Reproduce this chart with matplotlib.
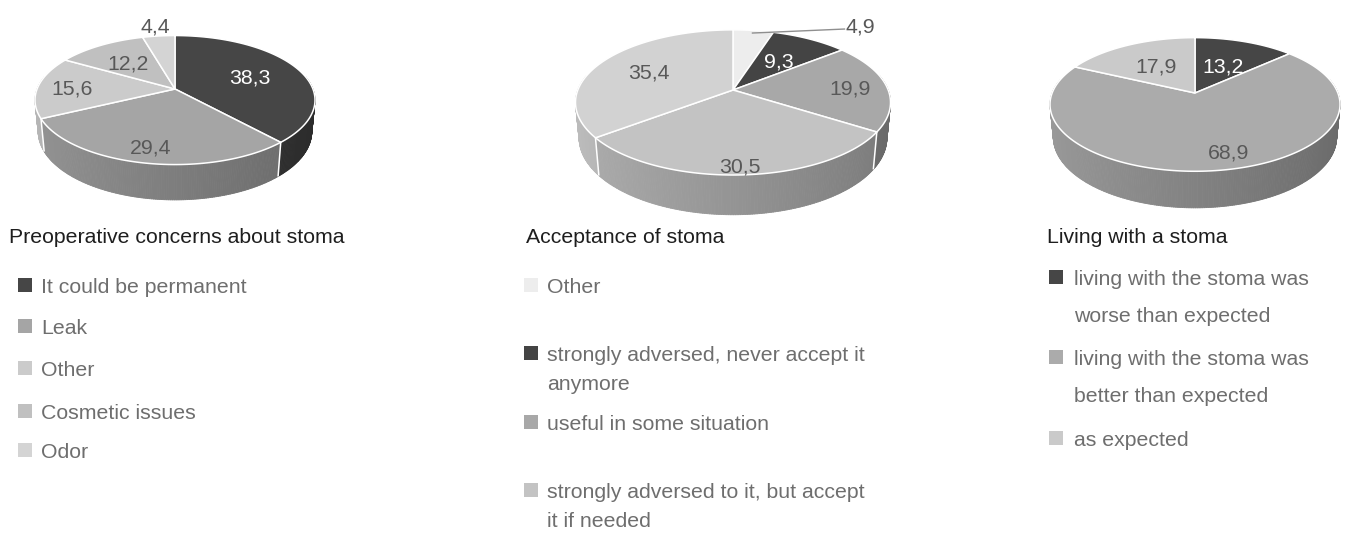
import numpy as np
import matplotlib
matplotlib.use("Agg")
import matplotlib.pyplot as plt
from matplotlib.patches import Polygon, Rectangle
from matplotlib.collections import PolyCollection

# ---------------- data ----------------
concern_title = "Preoperative concerns about stoma"
concern_labels = ["It could be permanent", "Leak", "Other", "Cosmetic issues", "Odor"]
concern_values = [38.3, 29.4, 15.6, 12.2, 4.4]

accept_title = "Acceptance of stoma"
accept_labels = ["Other", "strongly adversed, never accept it\nanymore",
                 "useful in some situation",
                 "strongly adversed to it, but accept\nit if needed", None]
accept_values = [4.9, 9.3, 19.9, 30.5, 35.4]

living_title = "Living with a stoma"
living_labels = ["living with the stoma was\nworse than expected",
                 "living with the stoma was\nbetter than expected",
                 "as expected"]
living_values = [13.2, 68.9, 17.9]

# ---------------- styles ----------------
concern_colors = ["#464646", "#a5a5a5", "#cbcbcb", "#c0c0c0", "#d4d4d4"]
accept_colors = ["#ededed", "#444444", "#a8a8a8", "#c3c3c3", "#d2d2d2"]
living_colors = ["#464646", "#ababab", "#cacaca"]

plt.rcParams["font.family"] = ["Liberation Sans", "DejaVu Sans"]
FS = 15.3
FPX = FS * 100 / 72.0
LEG_TXT = "#6e6e6e"
LBL_TXT = "#585858"

ELEV = np.deg2rad(27.0)
DIST = 5.2
HGT = 0.2585
SE, CE = np.sin(ELEV), np.cos(ELEV)

fig = plt.figure(figsize=(13.49, 5.33), dpi=100)
ax = fig.add_axes([0, 0, 1, 1])
ax.set_xlim(0, 1349)
ax.set_ylim(533, 0)
ax.axis("off")


def make_proj(cx, cy, width):
    tt = np.linspace(0, 2 * np.pi, 3000)
    u = np.cos(tt) / (DIST + np.sin(tt) * CE)
    s = width / (u.max() - u.min())

    def P(r, t, z):
        X = r * np.cos(t)
        Y = r * np.sin(t)
        yc = Y * SE + z * CE
        d = DIST + Y * CE - z * SE
        return cx + s * X / d, cy - s * yc / d
    return P


def shade(hexcol, f):
    c = np.array(matplotlib.colors.to_rgb(hexcol)) * f
    return tuple(np.clip(c, 0, 1))


def draw_pie(P, values, colors, label_r, label_dt, label_cols, leader=None):
    total = float(sum(values))
    bounds = [90.0]
    for v in values:
        bounds.append(bounds[-1] - v / total * 360.0)
    # side walls
    strips = []
    for i, col in enumerate(colors):
        ts, te = bounds[i], bounds[i + 1]
        n = max(2, int(abs(ts - te) / 0.75) + 1)
        angs = np.deg2rad(np.linspace(te, ts, n))
        for a, b in zip(angs[:-1], angs[1:]):
            m = 0.5 * (a + b)
            if np.sin(m) < 0.21:
                x1, y1 = P(1, a, 0)
                x2, y2 = P(1, b, 0)
                x3, y3 = P(1, b, -HGT)
                x4, y4 = P(1, a, -HGT)
                f = 0.76 - 0.14 * np.cos(m)
                strips.append((np.sin(m), [(x1, y1), (x2, y2), (x3, y3), (x4, y4)], shade(col, f)))
    strips.sort(key=lambda s: -s[0])
    pc = PolyCollection([s[1] for s in strips], facecolors=[s[2] for s in strips],
                        edgecolors=[s[2] for s in strips], linewidths=0.6)
    ax.add_collection(pc)
    # white separators on side
    for b in bounds[:-1]:
        br = np.deg2rad(b)
        if np.sin(br) < -0.02:
            x1, y1 = P(1, br, 0)
            x2, y2 = P(1, br, -HGT)
            ax.plot([x1, x2], [y1, y2], color="white", lw=1.1, solid_capstyle="butt")
    # tops
    for i, col in enumerate(colors):
        ts, te = bounds[i], bounds[i + 1]
        n = max(2, int(abs(ts - te) / 0.5) + 1)
        angs = np.deg2rad(np.linspace(ts, te, n))
        pts = [P(0, 0, 0)] + [P(1, a, 0) for a in angs]
        ax.add_patch(Polygon(pts, closed=True, facecolor=col, edgecolor="white",
                             lw=1.1, joinstyle="round"))
    # labels
    for i, v in enumerate(values):
        mid = 0.5 * (bounds[i] + bounds[i + 1]) + label_dt[i]
        txt = f"{v:.1f}".replace(".", ",")
        if leader is not None and leader[0] == i:
            ax0, ay0 = P(label_r[i], np.deg2rad(mid), 0)
            dx_l, dy_l, dx_t, dy_t = leader[1]
            ax.plot([ax0, ax0 + dx_l], [ay0, ay0 + dy_l], color="#8f8f8f", lw=1.0)
            ax.text(ax0 + dx_t, ay0 + dy_t + 0.358 * FPX, txt, ha="left", va="baseline",
                    color=label_cols[i], fontsize=FS)
        else:
            x, y = P(label_r[i], np.deg2rad(mid), 0)
            ax.text(x, y + 0.358 * FPX, txt, ha="center", va="baseline",
                    color=label_cols[i], fontsize=FS)


def draw_legend(title, tx, ty, sqx, txx, rows, gap, labels, colors):
    ax.text(tx, ty + 0.358 * FPX, title, ha="left", va="baseline", color="#1e1e1e", fontsize=FS)
    k = 0
    for lab, col in zip(labels, colors):
        if lab is None:
            continue
        y = rows[k]
        k += 1
        ax.add_patch(Rectangle((sqx, y - 7), 14, 14, facecolor=col, edgecolor="none"))
        for j, line in enumerate(lab.split("\n")):
            ax.text(txx, y + j * gap + 0.358 * FPX, line, ha="left", va="baseline",
                    color=LEG_TXT, fontsize=FS)


# pie 1
P1 = make_proj(175, 89, 280)
draw_pie(P1, concern_values, concern_colors,
         label_r=[0.6, 0.8, 0.75, 0.6, 1.25], label_dt=[0, 0, 0, 0, 0],
         label_cols=["white", LBL_TXT, LBL_TXT, LBL_TXT, LBL_TXT])
# pie 2
P2 = make_proj(733, 90, 315)
draw_pie(P2, accept_values, accept_colors,
         label_r=[0.95, 0.56, 0.76, 0.9, 0.63], label_dt=[0, 0, 0, 0, 0],
         label_cols=[LBL_TXT, "white", LBL_TXT, LBL_TXT, LBL_TXT],
         leader=(0, (92, -4, 93, -8)))
# pie 3
P3 = make_proj(1195, 93, 290)
draw_pie(P3, living_values, living_colors,
         label_r=[0.52, 0.8, 0.55], label_dt=[0, 6.5, 0],
         label_cols=["white", LBL_TXT, LBL_TXT])

draw_legend(concern_title, 9, 235, 18, 41, [285, 326, 368, 411, 450], 0,
            concern_labels, concern_colors)
draw_legend(accept_title, 526, 235, 524, 547, [285, 353, 422, 490], 29.5,
            accept_labels, accept_colors)
draw_legend(living_title, 1047, 235, 1049, 1074, [277, 357, 438], 37,
            living_labels, living_colors)

fig.savefig("out.png", dpi=100)
